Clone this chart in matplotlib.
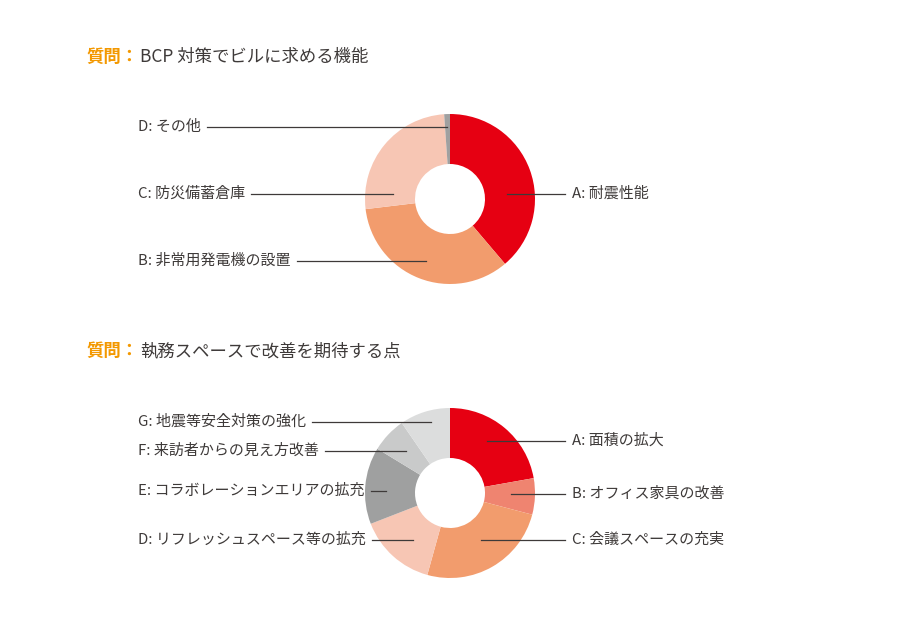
import matplotlib
matplotlib.use("Agg")
import matplotlib.pyplot as plt

plt.rcParams['font.family'] = ['Noto Sans CJK JP', 'DejaVu Sans']

# データ（上：BCP対策）
bcp_labels = ["A: 耐震性能", "B: 非常用発電機の設置", "C: 防災備蓄倉庫", "D: その他"]
bcp_values = [38.8, 34.3, 25.8, 1.1]
bcp_colors = ["#E60012", "#F29C6D", "#F7C6B4", "#A0A0A0"]

# データ（下：執務スペース）
work_labels = ["A: 面積の拡大", "B: オフィス家具の改善", "C: 会議スペースの充実",
               "D: リフレッシュスペース等の拡充", "E: コラボレーションエリアの拡充",
               "F: 来訪者からの見え方改善", "G: 地震等安全対策の強化"]
work_values = [22.2, 6.9, 25.2, 14.8, 14.6, 6.7, 9.6]
work_colors = ["#E60012", "#EF8470", "#F29C6D", "#F7C6B4", "#9FA0A0", "#C9CACA", "#DCDDDD"]

title1 = "BCP 対策でビルに求める機能"
title2 = "執務スペースで改善を期待する点"

TEXT = "#3E3A39"
ORANGE = "#F39800"
H = 630
FS = 10.8

fig = plt.figure(figsize=(9, 6.3), dpi=100)
ax = fig.add_axes([0, 0, 1, 1])
ax.set_xlim(0, 900)
ax.set_ylim(0, H)
renderer = fig.canvas.get_renderer()


def donut(vals, cols, cy):
    ax.pie(vals, colors=cols, startangle=90, counterclock=False,
           radius=85, center=(450, H - cy),
           wedgeprops=dict(width=50, linewidth=0))
    ax.set_xlim(0, 900)
    ax.set_ylim(0, H)


def label_left(text, y, x_line_end):
    t = ax.text(138, H - y, text, fontsize=FS, color=TEXT, va='center', ha='left')
    # 文字の右端から線を引く
    bb = t.get_window_extent(renderer=renderer)
    x0 = ax.transData.inverted().transform((bb.x1, 0))[0] + 6
    ax.plot([x0, x_line_end], [H - y, H - y], color=TEXT, lw=0.9)


def label_right(text, y, x_line_start):
    ax.plot([x_line_start, 565], [H - y, H - y], color=TEXT, lw=0.9)
    ax.text(572, H - y, text, fontsize=FS, color=TEXT, va='center', ha='left')


def title(text, y):
    ax.text(86, H - y, "質問：", fontsize=12.5, color=ORANGE, fontweight='bold',
            va='center', ha='left')
    ax.text(140, H - y, text, fontsize=12.5, color=TEXT, va='center', ha='left')


title(title1, 57)
donut(bcp_values, bcp_colors, 199)
label_right(bcp_labels[0], 194, 507)
label_left(bcp_labels[1], 261, 426)
label_left(bcp_labels[2], 194, 393)
label_left(bcp_labels[3], 127, 447)

title(title2, 351)
donut(work_values, work_colors, 493)
label_right(work_labels[0], 441, 487)
label_right(work_labels[1], 494, 511)
label_right(work_labels[2], 540, 481)
label_left(work_labels[3], 540, 413)
label_left(work_labels[4], 491, 386)
label_left(work_labels[5], 451, 406)
label_left(work_labels[6], 422, 431)

ax.set_aspect('equal')
ax.axis('off')

fig.savefig("out.png", dpi=100, facecolor="white")
